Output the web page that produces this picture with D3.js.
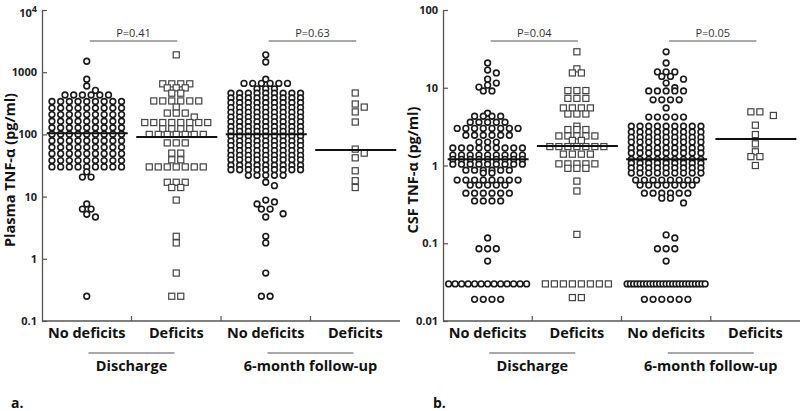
<!DOCTYPE html>
<html><head><meta charset="utf-8">
<script src="https://cdn.jsdelivr.net/npm/d3@7"></script>
<style>body{margin:0;background:#fff}svg{display:block}</style>
</head><body>
<svg id="c" width="800" height="411"></svg>
<script>
// ---------- DATA ([value, count]) ----------
const categories = ["No deficits","Deficits","No deficits","Deficits"];
const categoryKeys = ["d-no","d-def","f-no","f-def"];
const timepoints = ["Discharge","6-month follow-up"];
const plasmaTicks = [0.1,1,10,100,1000,10000];
const csfTicks = [0.01,0.1,1,10,100];

const plasmaDischargeNoDef = [[1500,1],[770,1],[600,1],[510,1],[430,6],[338,9],[265,9],[208,9],[163,9],[128,9],[101,9],[79,9],[62,9],[49,9],[38,9],[30,9],[25,1],[20.6,2],[7.6,1],[6.3,2],[5.2,1],[4.7,1],[0.25,1]];
const plasmaDischargeDef = [[1900,1],[650,4],[560,3],[460,2],[345,6],[275,1],[220,3],[190,1],[155,8],[123,4],[100,7],[73,3],[50,2],[39,2],[30,7],[17,3],[14,2],[8.8,1],[2.3,1],[1.8,1],[0.59,1],[0.25,2]];
const plasmaFollowNoDef = [[1900,1],[1460,1],[770,1],[660,6],[540,3],[460,9],[385,9],[323,9],[270,9],[226,9],[190,9],[159,9],[133,9],[112,9],[94,9],[78,9],[66,9],[55,9],[46,9],[39,9],[32,9],[27,9],[22,5],[17,1],[15,1],[8.8,1],[8.2,1],[7.6,1],[6.3,2],[5.3,1],[4.7,1],[2.3,1],[1.8,1],[0.59,1],[0.25,2]];
const plasmaFollowDef = [[463,1],[308,1],[275,1],[230,1],[158,1],[58,1],[50,1],[42,1],[26,1],[18,1],[14,1]];
const plasmaMedians = [104, 91, 101, 56];
const plasmaP = ["P=0.41","P=0.63"];

const csfDischargeNoDef = [[20.8,1],[16.9,1],[15.5,1],[12.9,1],[11.5,1],[10.8,1],[10.2,1],[9.1,2],[4.7,1],[4.3,4],[3.6,5],[3.0,8],[2.45,6],[2.0,3],[1.68,9],[1.36,9],[1.2,9],[1.04,9],[0.87,6],[0.8,2],[0.65,8],[0.56,5],[0.44,6],[0.35,4],[0.117,1],[0.085,3],[0.059,1],[0.03,13],[0.019,4]];
const csfDischargeDef = [[29,1],[17.5,1],[15.5,2],[9.2,3],[7.3,3],[5.5,4],[4.6,3],[3.2,1],[2.9,3],[2.4,5],[2.1,2],[1.75,7],[1.4,4],[1.05,5],[0.92,3],[0.63,1],[0.47,1],[0.13,1],[0.03,8],[0.02,2]];
const csfFollowNoDef = [[29,1],[20.8,1],[16,3],[14,2],[12.9,1],[11.5,1],[10,1],[9.1,5],[7.0,4],[5.5,1],[4.2,5],[3.2,9],[2.7,9],[2.3,9],[2.0,9],[1.68,9],[1.45,9],[1.2,9],[1.07,9],[0.93,9],[0.8,9],[0.65,8],[0.56,7],[0.44,6],[0.38,2],[0.33,1],[0.128,1],[0.117,1],[0.085,3],[0.059,1],[0.03,25],[0.019,6]];
const csfFollowDef = [[4.9,2],[4.4,1],[3.3,1],[2.5,1],[1.9,1],[1.5,1],[1.3,2],[1.0,1]];
const csfMedians = [1.2, 1.78, 1.2, 2.2];
const csfP = ["P=0.04","P=0.05"];

// ---------- DRAWING ----------
const svg = d3.select("#c");
const FONT = "'Open Sans', 'DejaVu Sans', sans-serif";

function swarm(rows, cx, y, S, W, thr){
  const pts = [];
  rows.slice().sort((a,b)=>b[0]-a[0]).forEach(([v,n])=>{
    const yy = y(v);
    if (n > 1){
      const sp = Math.min(S, W/(n-1));
      for (let i=0;i<n;i++) pts.push({x: cx+(i-(n-1)/2)*sp, y: yy});
    } else {
      const cand = [0,1,-1,2,-2,3,-3,4,-4];
      let best = 0;
      for (const k of cand){
        const x = cx + k*S;
        if (!pts.some(p=>Math.abs(p.y-yy)<thr && Math.abs(p.x-x)<S*0.9)){ best=k; break; }
      }
      pts.push({x: cx+best*S, y: yy});
    }
  });
  return pts;
}

function panel(opt){
  const g = svg.append("g");
  const x = d3.scaleBand().domain(categoryKeys).range([opt.x0, opt.x1]).padding(0);
  const y = d3.scaleLog().domain(opt.domain).range([321, 10]);
  const bw = x.bandwidth();
  const cx = k => x(k) + bw/2;

  const ax = d3.axisLeft(y).tickValues(opt.ticks).tickSizeInner(-5).tickSizeOuter(0).tickPadding(5)
    .tickFormat(opt.fmt);
  const ag = g.append("g").attr("transform",`translate(${opt.x0},0)`).call(ax);
  ag.select(".domain").attr("stroke","#555").attr("stroke-width",1.3);
  ag.selectAll(".tick line").attr("stroke","#555").attr("stroke-width",1.2);
  ag.selectAll(".tick text").attr("font-family",FONT).attr("font-weight","bold")
    .attr("font-size",11).attr("fill","#222");
  if (opt.sup){
    ag.selectAll(".tick text").filter(d=>d===10000).text(null).attr("dy","0.6em")
      .call(t=>{t.append("tspan").text("10"); t.append("tspan").attr("dy","-0.55em").attr("font-size",9).text("4");});
  }
  g.append("line").attr("x1",opt.x0).attr("x2",opt.x1).attr("y1",321).attr("y2",321)
    .attr("stroke","#555").attr("stroke-width",1.3);
  categoryKeys.slice(1).forEach(k=>{
    g.append("line").attr("x1",x(k)).attr("x2",x(k)).attr("y1",321).attr("y2",316)
      .attr("stroke","#555").attr("stroke-width",1.2);
  });
  categoryKeys.forEach((k,i)=>{
    g.append("text").attr("x",cx(k)).attr("y",338).attr("text-anchor","middle")
      .attr("font-family",FONT).attr("font-weight","bold").attr("font-size",14.5).attr("fill","#111")
      .text(categories[i]);
  });
  [[0,1],[2,3]].forEach(([a,b],i)=>{
    const mid = (cx(categoryKeys[a])+cx(categoryKeys[b]))/2;
    g.append("line").attr("x1",mid-43).attr("x2",mid+43).attr("y1",353).attr("y2",353)
      .attr("stroke","#555").attr("stroke-width",1.2);
    g.append("text").attr("x",mid).attr("y",371).attr("text-anchor","middle")
      .attr("font-family",FONT).attr("font-weight","bold").attr("font-size",14.5).attr("fill","#111")
      .text(timepoints[i]);
    const p1 = cx(categoryKeys[a])+3, p2 = cx(categoryKeys[b])+1;
    g.append("line").attr("x1",p1).attr("x2",p2).attr("y1",41).attr("y2",41)
      .attr("stroke","#555").attr("stroke-width",1.1);
    g.append("text").attr("x",(p1+p2)/2).attr("y",37).attr("text-anchor","middle")
      .attr("font-family",FONT).attr("font-size",11).attr("fill","#333").text(opt.p[i]);
  });
  g.append("text").attr("transform",`translate(${opt.labelX},${opt.labelY}) rotate(-90)`)
    .attr("text-anchor","middle").attr("font-family",FONT).attr("font-weight","bold")
    .attr("font-size",14.5).attr("fill","#111").text(opt.label);
  g.append("text").attr("x",opt.letterX).attr("y",408).attr("font-family",FONT)
    .attr("font-weight","bold").attr("font-size",14).attr("fill","#111").text(opt.letter);

  opt.groups.forEach((rows,i)=>{
    const k = categoryKeys[i];
    const isSq = i%2===1;
    const S = isSq ? 9 : 8.7;
    const pts = swarm(rows, cx(k), y, S, 78, 5);
    if (isSq){
      g.append("g").selectAll("rect").data(pts).join("rect")
        .attr("x",d=>d.x-3.05).attr("y",d=>d.y-3.05).attr("width",6.1).attr("height",6.1)
        .attr("fill","#fff").attr("stroke","#444").attr("stroke-width",1.2);
    } else {
      g.append("g").selectAll("circle").data(pts).join("circle")
        .attr("cx",d=>d.x).attr("cy",d=>d.y).attr("r",2.85)
        .attr("fill","#fff").attr("stroke","#1a1a1a").attr("stroke-width",1.6);
    }
  });
  g.append("g").selectAll("line").data(opt.medians).join("line")
    .attr("x1",(d,i)=>cx(categoryKeys[i])-40).attr("x2",(d,i)=>cx(categoryKeys[i])+41)
    .attr("y1",d=>y(d)).attr("y2",d=>y(d)).attr("stroke","#111").attr("stroke-width",2);
}

panel({x0:42, x1:400, domain:[0.1,10000], ticks:plasmaTicks,
  fmt: d => d>=1 ? d3.format("d")(d) : String(d), sup:true,
  groups:[plasmaDischargeNoDef, plasmaDischargeDef, plasmaFollowNoDef, plasmaFollowDef],
  medians: plasmaMedians, p: plasmaP, label:"Plasma TNF-α (pg/ml)", labelX:15, labelY:170,
  letter:"a.", letterX:11});
panel({x0:443, x1:800, domain:[0.01,100], ticks:csfTicks,
  fmt: d => d>=1 ? d3.format("d")(d) : String(d), sup:false,
  groups:[csfDischargeNoDef, csfDischargeDef, csfFollowNoDef, csfFollowDef],
  medians: csfMedians, p: csfP, label:"CSF TNF-α (pg/ml)", labelX:418, labelY:170,
  letter:"b.", letterX:433});
</script>
</body></html>
